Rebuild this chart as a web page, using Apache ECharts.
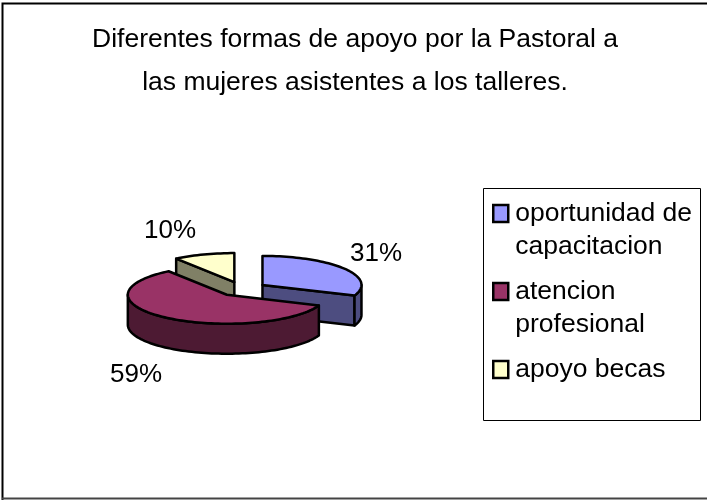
<!DOCTYPE html>
<html>
<head>
<meta charset="utf-8">
<title>Formas de apoyo</title>
<style>
  html, body { margin: 0; padding: 0; background: #fff; }
  #main { width: 707px; height: 500px; }
</style>
<script src="https://cdn.jsdelivr.net/npm/echarts@6/dist/echarts.min.js"></script>
</head>
<body>
<div id="main"></div>
<script>
var categories = ["oportunidad de capacitacion", "atencion profesional", "apoyo becas"];
var values = [31, 59, 10];
var percentLabels = ["31%", "59%", "10%"];
var legendText = {
  "oportunidad de capacitacion": "\noportunidad de\ncapacitacion",
  "atencion profesional": "\natencion\nprofesional",
  "apoyo becas": "\napoyo becas\n "
};

// colores: cara superior y cara lateral
var topColors = ["#9999ff", "#993366", "#ffffcc"];
var sideColors = ["#4d4d80", "#4d1a33", "#808066"];

// geometria del pastel 3D
var cx = 242, cy = 289, rx = 99, ry = 29, depth = 30, explode = 0.25;
var labelPos = [[376, 254], [136, 375], [170, 231]];

var total = values.reduce(function (a, b) { return a + b; }, 0);

function sliceAngles(i) {
  var before = 0;
  for (var k = 0; k < i; k++) before += values[k];
  return [before / total * 360, (before + values[i]) / total * 360];
}

function pt(ox, oy, deg) {
  var r = deg * Math.PI / 180;
  return [ox + rx * Math.sin(r), oy - ry * Math.cos(r)];
}

function arcPoints(ox, oy, from, to) {
  var pts = [];
  var n = Math.max(2, Math.ceil((to - from) / 2));
  for (var k = 0; k <= n; k++) pts.push(pt(ox, oy, from + (to - from) * k / n));
  return pts;
}

function poly(points, fill) {
  return {
    type: "polygon",
    shape: { points: points },
    style: { fill: fill, stroke: "#000", lineWidth: 2.5, lineJoin: "round" }
  };
}

function drop(points) {
  return points.map(function (p) { return [p[0], p[1] + depth]; }).reverse();
}

function renderSlice(i) {
  var ang = sliceAngles(i);
  var a = ang[0], b = ang[1];
  var mid = (a + b) / 2 * Math.PI / 180;
  var ox = cx + explode * rx * Math.sin(mid);
  var oy = cy - explode * ry * Math.cos(mid);
  var apex = [ox, oy];
  var sa = Math.sin(a * Math.PI / 180), sb = Math.sin(b * Math.PI / 180);
  var kids = [];
  var side = sideColors[i];

  // caras de corte visibles
  if (sa < -1e-6) {
    var p = [apex, pt(ox, oy, a)];
    kids.push(poly(p.concat(drop(p)), side));
  }
  if (sb > 1e-6) {
    var q = [apex, pt(ox, oy, b)];
    kids.push(poly(q.concat(drop(q)), side));
  }
  // borde curvo, solo la parte de adelante
  var from = Math.max(a, 90), to = Math.min(b, 270);
  if (to > from) {
    var rim = arcPoints(ox, oy, from, to);
    kids.push(poly(rim.concat(drop(rim)), side));
  }
  // cara superior
  kids.push(poly([apex].concat(arcPoints(ox, oy, a, b)), topColors[i]));
  return { type: "group", children: kids };
}

var chart = echarts.init(document.getElementById("main"));

// orden de dibujo: becas, capacitacion y atencion adelante
var zOrder = [2, 3, 1];

var series = categories.map(function (name, i) {
  return {
    name: name,
    type: "custom",
    coordinateSystem: "none",
    z: zOrder[i],
    silent: true,
    itemStyle: { color: topColors[i] },
    data: [values[i]],
    renderItem: function () { return renderSlice(i); }
  };
});

var option = {
  animation: false,
  title: {
    text: "Diferentes formas de apoyo por la Pastoral a\nlas mujeres asistentes a los talleres.",
    left: 350,
    top: 13,
    textAlign: "center",
    textStyle: {
      fontFamily: "Liberation Sans",
      fontSize: 26.5,
      fontWeight: "normal",
      color: "#000",
      lineHeight: 43
    }
  },
  legend: {
    orient: "vertical",
    left: 492,
    top: 162,
    icon: "rect",
    itemWidth: 15,
    itemHeight: 17,
    itemGap: -25,
    padding: 0,
    selectedMode: false,
    itemStyle: { borderColor: "#000", borderWidth: 2.5 },
    textStyle: {
      fontFamily: "Liberation Sans",
      fontSize: 26.5,
      color: "#000",
      lineHeight: 33,
      padding: [4, 0, 0, 2]
    },
    data: categories,
    formatter: function (name) { return legendText[name]; }
  },
  graphic: [
    {
      type: "polyline",
      z: -1,
      shape: { points: [[2.5, 500], [2.5, 3.5], [707, 3.5]] },
      style: { fill: "none", stroke: "#000", lineWidth: 2 }
    },
    {
      type: "line",
      z: -1,
      shape: { x1: 2, y1: 498.5, x2: 707, y2: 498.5 },
      style: { stroke: "#444", lineWidth: 2 }
    },
    {
      type: "rect",
      z: -1,
      shape: { x: 483.5, y: 188.5, width: 217, height: 232 },
      style: { fill: "#fff", stroke: "#000", lineWidth: 1 }
    }
  ].concat(percentLabels.map(function (t, i) {
    return {
      type: "text",
      z: 5,
      x: labelPos[i][0],
      y: labelPos[i][1],
      style: {
        text: t,
        fontFamily: "Liberation Sans",
        fontSize: 26,
        fill: "#000",
        align: "center",
        verticalAlign: "middle"
      }
    };
  })),
  series: series
};

chart.setOption(option);
</script>
</body>
</html>
